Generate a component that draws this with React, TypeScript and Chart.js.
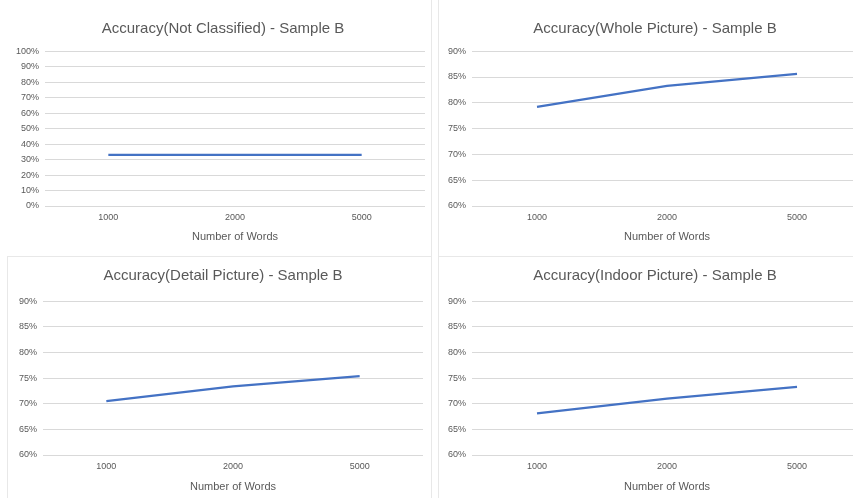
import React, { useEffect, useRef } from "react";
import { Chart, registerables } from "chart.js";

Chart.register(...registerables);

const FONT = "'Liberation Sans', Arial, sans-serif";
const TEXT = "#595959";
const GRID = "#d9d9d9";
const LINE = "#4472C4";

const categories = ["1000", "2000", "5000"];
const xAxisTitle = "Number of Words";

const notClassified = [33, 33, 33];
const wholePicture = [79.2, 83.3, 85.6];
const detailPicture = [70.5, 73.4, 75.4];
const indoorPicture = [68.1, 71.0, 73.3];

const fullTicks = [0, 10, 20, 30, 40, 50, 60, 70, 80, 90, 100];
const narrowTicks = [60, 65, 70, 75, 80, 85, 90];

const titleNotClassified = "Accuracy(Not Classified) - Sample B";
const titleWhole = "Accuracy(Whole Picture) - Sample B";
const titleDetail = "Accuracy(Detail Picture) - Sample B";
const titleIndoor = "Accuracy(Indoor Picture) - Sample B";

type PanelProps = {
  left: number;
  top: number;
  width: number;
  height: number;
  title: string;
  values: number[];
  ticks: number[];
  yWidth: number;
  rightWidth: number;
  tTop: number;
  tBottom: number;
  xHeight: number;
  axisPadB: number;
};

function Panel(p: PanelProps) {
  const ref = useRef<HTMLCanvasElement>(null);
  useEffect(() => {
    const tmin = p.ticks[0];
    const tmax = p.ticks[p.ticks.length - 1];
    const step = p.ticks[1] - p.ticks[0];
    const chart = new Chart(ref.current as HTMLCanvasElement, {
      type: "line",
      data: {
        labels: categories,
        datasets: [
          {
            data: p.values,
            borderColor: LINE,
            backgroundColor: LINE,
            borderWidth: 2.25,
            pointRadius: 0,
            fill: false,
            tension: 0,
          },
        ],
      },
      options: {
        animation: false,
        responsive: false,
        devicePixelRatio: 1,
        layout: { padding: 0 },
        plugins: {
          legend: { display: false },
          tooltip: { enabled: false },
          title: {
            display: true,
            text: p.title,
            color: TEXT,
            font: { family: FONT, size: 15, weight: "normal" },
            padding: { top: p.tTop, bottom: p.tBottom },
          },
        },
        scales: {
          x: {
            offset: true,
            grid: { display: false, drawTicks: false },
            border: { display: false },
            ticks: { color: TEXT, font: { family: FONT, size: 9 }, padding: 6, maxRotation: 0 },
            title: {
              display: true,
              text: xAxisTitle,
              color: TEXT,
              font: { family: FONT, size: 11 },
              padding: { top: 0, bottom: p.axisPadB },
            },
            afterFit: (s: any) => {
              s.height = p.xHeight;
            },
          },
          y: {
            min: tmin,
            max: tmax,
            grid: { color: GRID, drawTicks: false, lineWidth: 1 },
            border: { display: false },
            ticks: {
              stepSize: step,
              autoSkip: false,
              color: TEXT,
              font: { family: FONT, size: 9 },
              padding: 6,
              callback: (v: any) => v + "%",
            },
            afterFit: (s: any) => {
              s.width = p.yWidth;
            },
          },
          spacer: {
            type: "linear",
            position: "right",
            display: true,
            grid: { display: false, drawTicks: false },
            border: { display: false },
            ticks: { display: false },
            afterFit: (s: any) => {
              s.width = p.rightWidth;
            },
          },
        },
      },
    } as any);
    return () => chart.destroy();
  }, []);
  return (
    <canvas
      ref={ref}
      width={p.width}
      height={p.height}
      style={{ position: "absolute", left: p.left, top: p.top, width: p.width, height: p.height, display: "block" }}
    />
  );
}

const border = "#e8e8e8";

export default function App() {
  useEffect(() => {
    document.body.style.margin = "0";
    document.body.style.background = "#ffffff";
  }, []);
  return (
    <div style={{ position: "relative", width: 853, height: 498, overflow: "hidden", background: "#fff" }}>
      <Panel left={0} top={0} width={446} height={250} title={titleNotClassified} values={notClassified} ticks={fullTicks}
        yWidth={45} rightWidth={21} tTop={19.6} tBottom={13.6} xHeight={44} axisPadB={6} />
      <Panel left={430} top={0} width={450} height={250} title={titleWhole} values={wholePicture} ticks={narrowTicks}
        yWidth={42} rightWidth={18} tTop={19.6} tBottom={13.6} xHeight={44} axisPadB={6} />
      <Panel left={0} top={250} width={446} height={248} title={titleDetail} values={detailPicture} ticks={narrowTicks}
        yWidth={43} rightWidth={23} tTop={16.6} tBottom={16.6} xHeight={43} axisPadB={4} />
      <Panel left={430} top={250} width={450} height={248} title={titleIndoor} values={indoorPicture} ticks={narrowTicks}
        yWidth={42} rightWidth={18} tTop={16.6} tBottom={16.6} xHeight={43} axisPadB={4} />
      <div style={{ position: "absolute", left: 431, top: 0, width: 1, height: 498, background: border }} />
      <div style={{ position: "absolute", left: 438, top: 0, width: 1, height: 498, background: border }} />
      <div style={{ position: "absolute", left: 7, top: 256, width: 424, height: 1, background: border }} />
      <div style={{ position: "absolute", left: 438, top: 256, width: 415, height: 1, background: border }} />
      <div style={{ position: "absolute", left: 7, top: 256, width: 1, height: 242, background: border }} />
    </div>
  );
}
